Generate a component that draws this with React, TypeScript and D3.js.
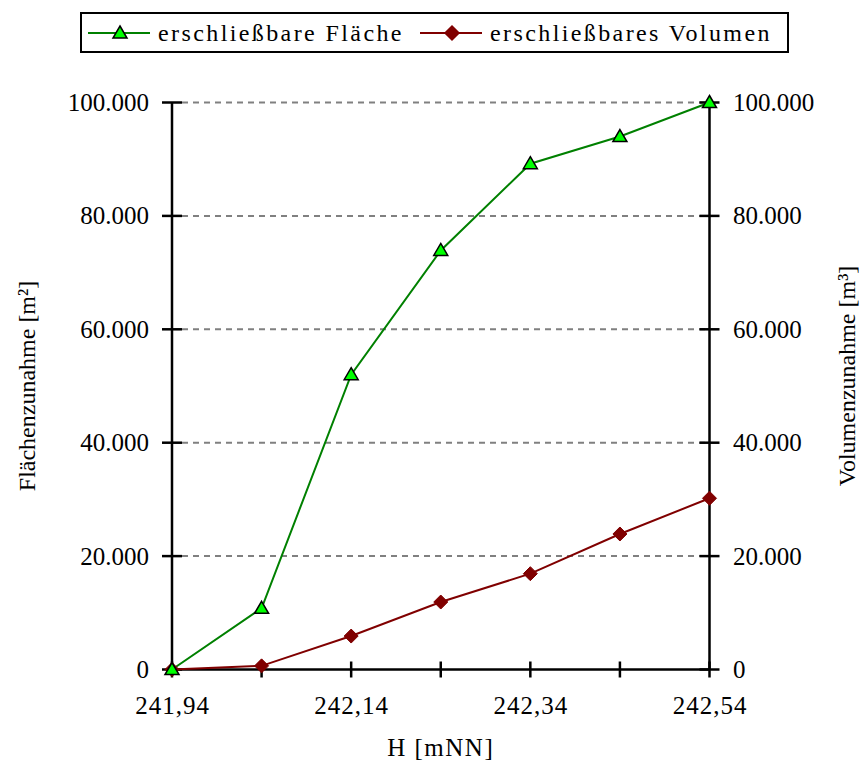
import React, { useRef, useEffect } from 'react';
import * as d3 from 'd3';

// Höhen (x) und Zunahmen
const heights = [241.94, 242.04, 242.14, 242.24, 242.34, 242.44, 242.54];
const flaeche = [0, 10800, 52000, 73900, 89200, 94000, 100000];
const volumen = [0, 640, 5900, 11900, 16900, 23900, 30200];
const xLabelTicks = [241.94, 242.14, 242.34, 242.54];
const yTicks = [0, 20000, 40000, 60000, 80000, 100000];

const seriesNames = ['erschließbare Fläche', 'erschließbares Volumen'];

const de = d3.formatLocale({ decimal: ',', thousands: '.', grouping: [3], currency: ['', ' €'] });
const fmtY = de.format(',.0f');
const fmtX = de.format('.2f');

function App() {
  const ref = useRef<SVGSVGElement>(null);

  const width = 860, height = 763;
  const margin = { top: 102.5, right: 150.5, bottom: 93.5, left: 172 };

  useEffect(() => {
    const svg = d3.select(ref.current);
    svg.selectAll('*').remove();
    drawChart(svg);
  }, []);

  const drawChart = (svg: any) => {
    const font = '"Liberation Serif", "Times New Roman", serif';
    const x = d3.scaleLinear().domain([241.94, 242.54]).range([margin.left, width - margin.right]);
    const y = d3.scaleLinear().domain([0, 100000]).range([height - margin.bottom, margin.top]);
    const x0 = x.range()[0], x1 = x.range()[1];
    const yb = y(0), yt = y(100000);

    // gridlines
    svg.selectAll('.grid')
      .data(yTicks.filter(d => d > 0))
      .enter()
      .append('line')
      .attr('x1', x0 + 10)
      .attr('x2', x1)
      .attr('y1', (d: number) => y(d))
      .attr('y2', (d: number) => y(d))
      .attr('stroke', '#808080')
      .attr('stroke-width', 2)
      .attr('stroke-dasharray', '6,5');

    // axes lines
    const axisG = svg.append('g').attr('stroke', '#000').attr('stroke-width', 2.5);
    axisG.append('line').attr('x1', x0).attr('x2', x0).attr('y1', yt).attr('y2', yb);
    axisG.append('line').attr('x1', x1).attr('x2', x1).attr('y1', yt).attr('y2', yb);
    axisG.append('line').attr('x1', x0).attr('x2', x1).attr('y1', yb).attr('y2', yb);

    // y ticks both sides
    [x0, x1].forEach(ax => {
      axisG.selectAll(null)
        .data(yTicks)
        .enter()
        .append('line')
        .attr('x1', ax - 10)
        .attr('x2', ax + 10)
        .attr('y1', (d: number) => y(d))
        .attr('y2', (d: number) => y(d));
    });

    // x ticks
    axisG.selectAll(null)
      .data(heights)
      .enter()
      .append('line')
      .attr('x1', (d: number) => x(d))
      .attr('x2', (d: number) => x(d))
      .attr('y1', yb - 8)
      .attr('y2', yb + 8);

    // y labels left
    svg.selectAll('.ylabL')
      .data(yTicks)
      .enter()
      .append('text')
      .attr('x', x0 - 23)
      .attr('y', (d: number) => y(d) + 8.5)
      .attr('text-anchor', 'end')
      .attr('font-family', font)
      .attr('font-size', 25)
      .text((d: number) => fmtY(d));

    // y labels right
    svg.selectAll('.ylabR')
      .data(yTicks)
      .enter()
      .append('text')
      .attr('x', x1 + 23.5)
      .attr('y', (d: number) => y(d) + 8.5)
      .attr('text-anchor', 'start')
      .attr('font-family', font)
      .attr('font-size', 25)
      .text((d: number) => fmtY(d));

    // x labels
    svg.selectAll('.xlab')
      .data(xLabelTicks)
      .enter()
      .append('text')
      .attr('x', (d: number) => x(d) + 0.5)
      .attr('y', 714)
      .attr('text-anchor', 'middle')
      .attr('font-family', font)
      .attr('font-size', 25)
      .attr('letter-spacing', 1)
      .text((d: number) => fmtX(d));

    // axis titles
    svg.append('text')
      .attr('x', (x0 + x1) / 2)
      .attr('y', 756)
      .attr('text-anchor', 'middle')
      .attr('font-family', font)
      .attr('font-size', 25)
      .attr('letter-spacing', 1.5)
      .text('H [mNN]');

    svg.append('text')
      .attr('transform', 'translate(35,386) rotate(-90)')
      .attr('text-anchor', 'middle')
      .attr('font-family', font)
      .attr('font-size', 24)
      .text('Flächenzunahme [m²]');

    svg.append('text')
      .attr('transform', 'translate(855,376) rotate(-90)')
      .attr('text-anchor', 'middle')
      .attr('font-family', font)
      .attr('font-size', 24)
      .text('Volumenzunahme [m³]');

    // lines
    const lineF = d3.line<number>().x((d, i) => x(heights[i])).y(d => y(d));
    svg.append('path')
      .attr('d', lineF(volumen))
      .attr('fill', 'none')
      .attr('stroke', '#800000')
      .attr('stroke-width', 2);
    svg.append('path')
      .attr('d', lineF(flaeche))
      .attr('fill', 'none')
      .attr('stroke', '#008000')
      .attr('stroke-width', 2);

    const tri = 'M0,-7L7,5L-7,5Z';
    const dia = 'M0,-7L7,0L0,7L-7,0Z';

    svg.selectAll('.dia')
      .data(volumen)
      .enter()
      .append('path')
      .attr('d', dia)
      .attr('transform', (d: number, i: number) => `translate(${x(heights[i])},${y(d)})`)
      .attr('fill', '#800000')
      .attr('stroke', '#800000')
      .attr('stroke-width', 1);

    svg.selectAll('.tri')
      .data(flaeche)
      .enter()
      .append('path')
      .attr('d', tri)
      .attr('transform', (d: number, i: number) => `translate(${x(heights[i])},${y(d)})`)
      .attr('fill', '#00ff00')
      .attr('stroke', '#000')
      .attr('stroke-width', 1.5);

    // legend
    const lg = svg.append('g');
    lg.append('rect')
      .attr('x', 81).attr('y', 13).attr('width', 707).attr('height', 39)
      .attr('fill', '#fff').attr('stroke', '#000').attr('stroke-width', 2);
    const items = [
      { name: seriesNames[0], color: '#008000', x: 88, mark: tri, fill: '#00ff00', stroke: '#000' },
      { name: seriesNames[1], color: '#800000', x: 420, mark: dia, fill: '#800000', stroke: '#800000' },
    ];
    items.forEach(it => {
      lg.append('line')
        .attr('x1', it.x).attr('x2', it.x + 62).attr('y1', 33).attr('y2', 33)
        .attr('stroke', it.color).attr('stroke-width', 2);
      lg.append('path')
        .attr('d', it.mark)
        .attr('transform', `translate(${it.x + 32},33)`)
        .attr('fill', it.fill).attr('stroke', it.stroke).attr('stroke-width', 1.5);
      lg.append('text')
        .attr('x', it.x + 70)
        .attr('y', 41)
        .attr('font-family', font)
        .attr('font-size', 24)
        .attr('letter-spacing', 2.4)
        .text(it.name);
    });
  };

  return (
    <div style={{ position: 'absolute', left: 0, top: 0, width, height }}>
      <svg ref={ref} width={width} height={height} style={{ display: 'block' }}></svg>
    </div>
  );
}

export default App;
